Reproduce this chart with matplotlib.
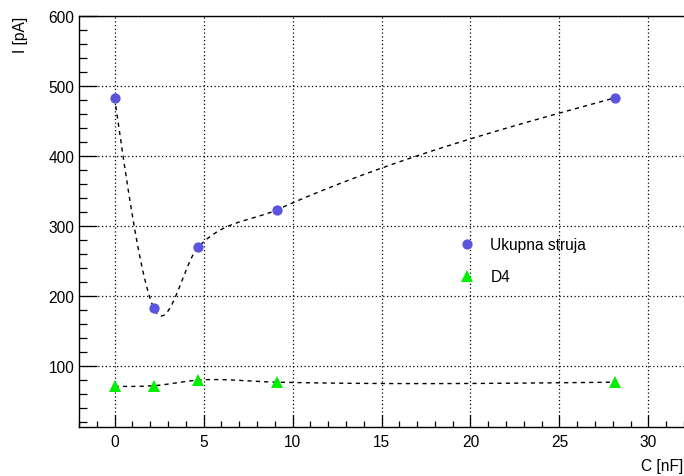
import numpy as np
import matplotlib
matplotlib.use("Agg")
import matplotlib.pyplot as plt
from matplotlib.ticker import MultipleLocator

plt.rcParams["font.family"] = ["Liberation Sans", "DejaVu Sans"]

# capacitance [nF]
c_nf = [0.0, 2.2, 4.7, 9.1, 28.1]
# currents [pA]
i_total = [483, 183, 270, 323, 483]
i_d4 = [71, 72, 80, 77, 77]

label_total = "Ukupna struja"
label_d4 = "D4"

x_lim = (-2.0, 32.0)
y_lim = (13, 600)


def smooth(x, y, xx):
    # local cubic hermite, tangents from the 3-point parabola (bessel)
    x = np.asarray(x, float)
    y = np.asarray(y, float)
    h = np.diff(x)
    s = np.diff(y) / h
    m = np.zeros_like(y)
    m[1:-1] = (h[1:] * s[:-1] + h[:-1] * s[1:]) / (h[:-1] + h[1:])
    m[0] = (3 * s[0] - m[1]) / 2
    m[-1] = (3 * s[-1] - m[-2]) / 2
    out = np.empty_like(xx)
    for k, v in enumerate(xx):
        i = min(np.searchsorted(x, v, side="right") - 1, len(x) - 2)
        t = (v - x[i]) / h[i]
        h00 = 2 * t**3 - 3 * t**2 + 1
        h10 = t**3 - 2 * t**2 + t
        h01 = -2 * t**3 + 3 * t**2
        h11 = t**3 - t**2
        out[k] = h00 * y[i] + h10 * h[i] * m[i] + h01 * y[i + 1] + h11 * h[i] * m[i + 1]
    return out


fig = plt.figure(figsize=(6.84, 4.77), dpi=100)
ax = fig.add_axes([79 / 684, 1 - 428 / 477, 1 - 79 / 684, (428 - 17) / 477])

xx = np.linspace(c_nf[0], c_nf[-1], 800)
for yv, col, mk, ms, lab in [(i_total, "#5a55dc", "o", 7.4, label_total),
                             (i_d4, "#00ee00", "^", 8.6, label_d4)]:
    ax.plot(xx, smooth(c_nf, yv, xx), color="black", lw=1.0,
            ls=(0, (3, 3)), zorder=2)
    ax.plot(c_nf, yv, ls="none", marker=mk, ms=ms, color=col,
            markeredgewidth=0, label=lab, zorder=3)

ax.set_xlim(*x_lim)
ax.set_ylim(*y_lim)
ax.xaxis.set_major_locator(MultipleLocator(5))
ax.xaxis.set_minor_locator(MultipleLocator(1))
ax.yaxis.set_major_locator(MultipleLocator(100))
ax.yaxis.set_minor_locator(MultipleLocator(20))
ax.tick_params(axis="x", which="major", direction="in", length=8.6, width=0.9, labelsize=11.2, pad=5)
ax.tick_params(axis="x", which="minor", direction="in", length=4.3, width=0.9)
ax.tick_params(axis="y", which="major", direction="in", length=12.7, width=0.9, labelsize=11.2, pad=3.3)
ax.tick_params(axis="y", which="minor", direction="in", length=6, width=0.9)
ax.grid(True, which="major", color="black", ls=(0, (1, 2)), lw=0.9)
ax.spines["right"].set_visible(False)
for s in ("left", "bottom", "top"):
    ax.spines[s].set_linewidth(1.0)

fig.text(21 / 684, 1 - 17 / 477, "I [pA]", rotation=90, ha="center", va="top", fontsize=11.2)
fig.text(683 / 684, 1 - 467 / 477, "C [nF]", ha="right", va="center", fontsize=11.2)

ax.legend(loc="upper left", bbox_to_anchor=(457 / 684, 1 - 238 / 477),
          bbox_transform=fig.transFigure, frameon=False, fontsize=11.2,
          handletextpad=0.85, labelspacing=1.1, handlelength=1.3,
          borderpad=0, borderaxespad=0)

fig.savefig("out.png", dpi=100)
